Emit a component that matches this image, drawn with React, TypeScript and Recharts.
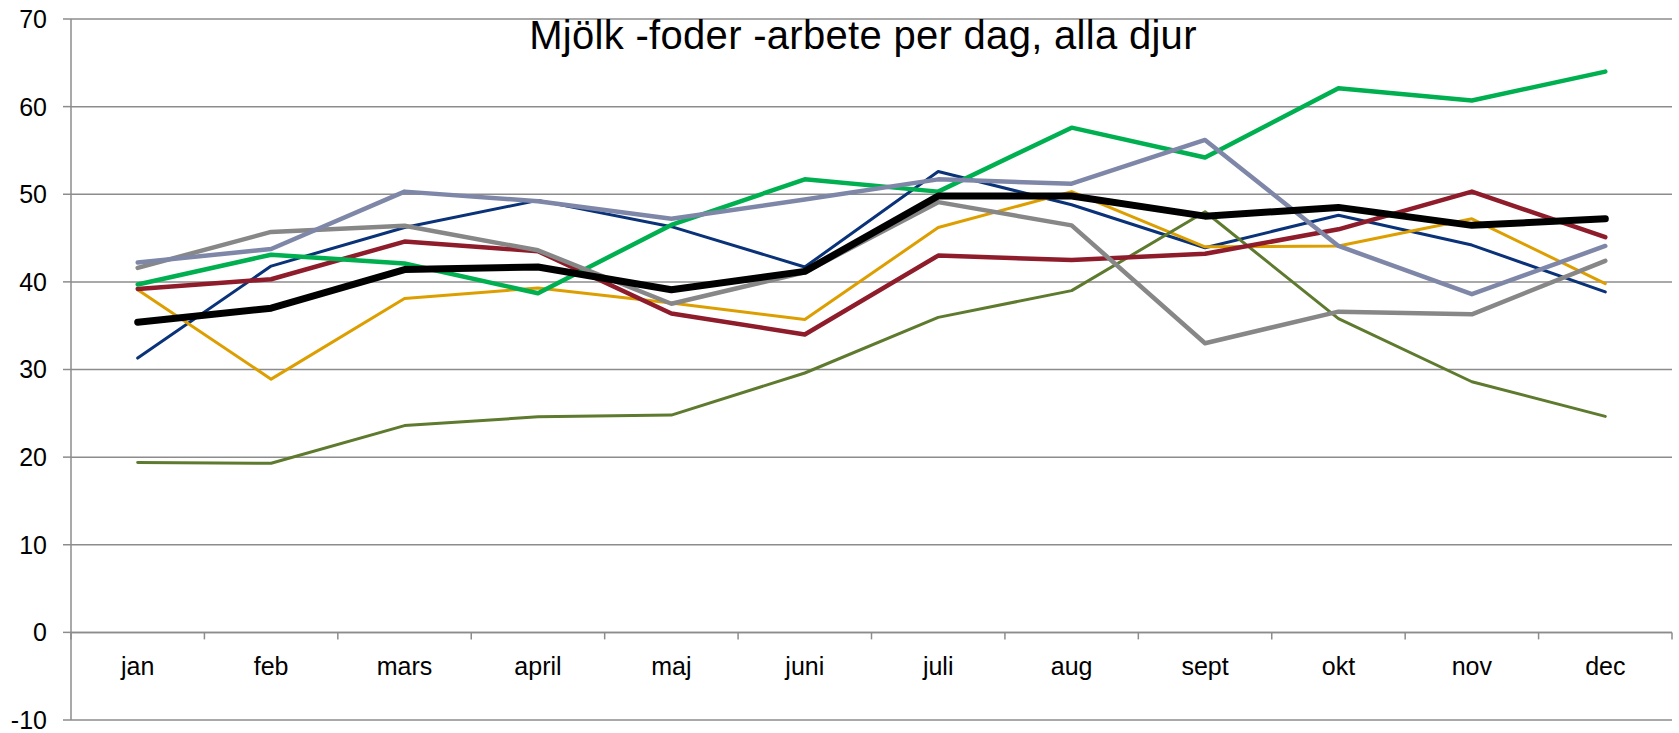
import React from 'react';
import { LineChart, Line, XAxis, YAxis, CartesianGrid, ReferenceLine } from 'recharts';

const months = ['jan', 'feb', 'mars', 'april', 'maj', 'juni', 'juli', 'aug', 'sept', 'okt', 'nov', 'dec'];
const yTicks = [-10, 0, 10, 20, 30, 40, 50, 60, 70];

const navySeries = [31.3, 41.8, 46.2, 49.3, 46.3, 41.7, 52.6, 48.8, 43.9, 47.6, 44.2, 38.85];
const orangeSeries = [39.1, 28.9, 38.1, 39.3, 37.6, 35.7, 46.2, 50.3, 44.0, 44.1, 47.2, 39.8];
const redSeries = [39.2, 40.3, 44.6, 43.5, 36.4, 34.0, 43.0, 42.5, 43.2, 46.0, 50.3, 45.1];
const greenSeries = [39.7, 43.1, 42.1, 38.7, 46.5, 51.7, 50.3, 57.6, 54.2, 62.1, 60.7, 64.0];
const lavenderSeries = [42.2, 43.75, 50.3, 49.2, 47.2, 49.4, 51.7, 51.2, 56.2, 44.1, 38.6, 44.1];
const graySeries = [41.6, 45.7, 46.4, 43.6, 37.5, 41.1, 49.1, 46.45, 33.0, 36.6, 36.3, 42.4];
const oliveSeries = [19.4, 19.3, 23.6, 24.6, 24.8, 29.6, 35.95, 39.0, 48.0, 35.8, 28.6, 24.65];
const averageSeries = [35.4, 37.0, 41.4, 41.7, 39.1, 41.2, 49.8, 49.8, 47.5, 48.5, 46.45, 47.2];

const title = 'Mjölk -foder -arbete per dag, alla djur';

const data = months.map((m, i) => ({
  month: m,
  navy: navySeries[i],
  orange: orangeSeries[i],
  olive: oliveSeries[i],
  red: redSeries[i],
  green: greenSeries[i],
  gray: graySeries[i],
  lavender: lavenderSeries[i],
  average: averageSeries[i],
}));

const W = 1679;
const H = 733;
const X_AXIS_H = 1;
const MARGIN = { top: 19, right: 7, bottom: 12, left: 0 };
const Y_AXIS_W = 71;
const Y_MIN = -10;
const Y_MAX = 70;
const PLOT_H = H - MARGIN.top - MARGIN.bottom - X_AXIS_H;
const PLOT_W = W - MARGIN.left - MARGIN.right - Y_AXIS_W;
const ZERO_UP = (PLOT_H * (0 - Y_MIN)) / (Y_MAX - Y_MIN);

const AXIS_COLOR = '#8c8c8c';
const FONT = '"Liberation Sans", Arial, sans-serif';

function MonthTick(props: any) {
  const { x, y, payload, index } = props;
  const half = payload && payload.offset > 0 ? payload.offset : PLOT_W / months.length / 2;
  const zy = y - ZERO_UP;
  return (
    <g>
      <line x1={x - half} x2={x - half} y1={zy} y2={zy + 7} stroke={AXIS_COLOR} strokeWidth={1.5} />
      {index === months.length - 1 && (
        <line x1={x + half} x2={x + half} y1={zy} y2={zy + 7} stroke={AXIS_COLOR} strokeWidth={1.5} />
      )}
      <text x={x} y={zy + 43} textAnchor="middle" fontSize={25} fill="#000" fontFamily={FONT}>
        {payload.value}
      </text>
    </g>
  );
}

const series = [
  { key: 'navy', color: '#0a3278', width: 3 },
  { key: 'orange', color: '#dd9e00', width: 3 },
  { key: 'olive', color: '#5e7a2e', width: 3 },
  { key: 'red', color: '#8e1c2a', width: 4.5 },
  { key: 'green', color: '#00b050', width: 4.5 },
  { key: 'gray', color: '#878787', width: 4.5 },
  { key: 'lavender', color: '#7f87a8', width: 4.5 },
  { key: 'average', color: '#000000', width: 7 },
];

export default function App() {
  return (
    <div style={{ position: 'absolute', left: 0, top: 0, width: W, height: H, background: '#fff' }}>
      <LineChart width={W} height={H} data={data} margin={MARGIN}>
        <CartesianGrid horizontal={true} vertical={false} stroke={AXIS_COLOR} strokeWidth={1.5} />
        <XAxis
          dataKey="month"
          scale="band"
          height={X_AXIS_H}
          axisLine={false}
          tickLine={false}
          tickSize={0}
          tickMargin={0}
          interval={0}
          tick={(p: any) => <MonthTick {...p} />}
        />
        <YAxis
          width={Y_AXIS_W}
          domain={[Y_MIN, Y_MAX]}
          ticks={yTicks}
          interval={0}
          axisLine={{ stroke: AXIS_COLOR, strokeWidth: 1.5 }}
          tickLine={{ stroke: AXIS_COLOR, strokeWidth: 1.5 }}
          tickSize={8}
          tickMargin={16}
          tick={{ fontSize: 25, fill: '#000', fontFamily: FONT }}
        />
        <ReferenceLine y={0} stroke={AXIS_COLOR} strokeWidth={1.5} />
        {series.map((s) => (
          <Line
            key={s.key}
            type="linear"
            dataKey={s.key}
            stroke={s.color}
            strokeWidth={s.width}
            strokeLinecap="round"
            strokeLinejoin="round"
            dot={false}
            activeDot={false}
            isAnimationActive={false}
          />
        ))}
      </LineChart>
      <div
        style={{
          position: 'absolute',
          left: 863,
          top: 15,
          transform: 'translateX(-50%)',
          whiteSpace: 'nowrap',
          fontFamily: FONT,
          fontSize: 40,
          lineHeight: '40px',
          letterSpacing: 0.3,
          color: '#000',
        }}
      >
        {title}
      </div>
    </div>
  );
}
